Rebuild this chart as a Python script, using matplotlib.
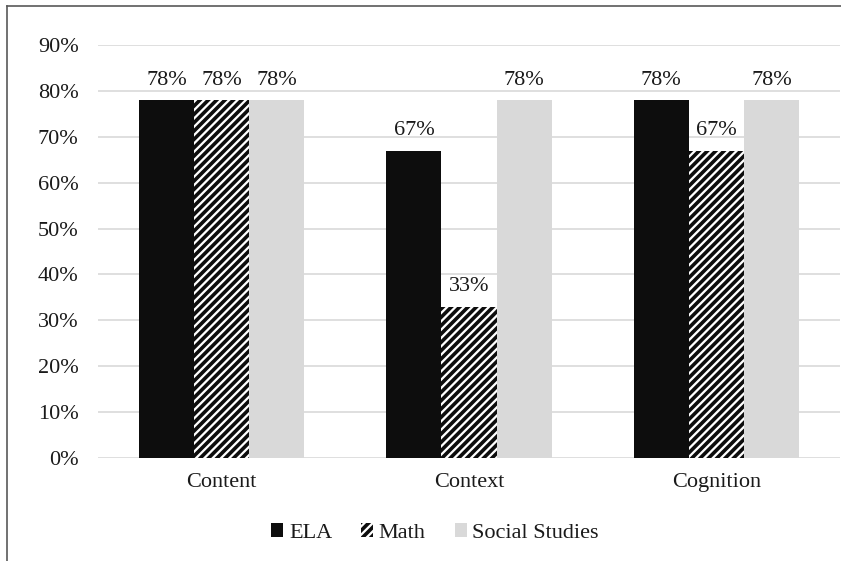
import matplotlib
matplotlib.use("Agg")
import matplotlib.pyplot as plt
import numpy as np
from matplotlib.lines import Line2D

plt.rcParams['font.family'] = ['Liberation Serif', 'DejaVu Serif']
plt.rcParams['hatch.linewidth'] = 2.6
plt.rcParams['hatch.color'] = '#0d0d0d'

categories = ['Content', 'Context', 'Cognition']
ela = [78, 67, 78]
math_vals = [78, 33, 67]
social = [78, 78, 78]
yticks = [0, 10, 20, 30, 40, 50, 60, 70, 80, 90]

fig = plt.figure(figsize=(8.41, 5.61), dpi=100)
ax = fig.add_axes([98 / 841, 1 - 458 / 561, 742 / 841, 413 / 561])

x = np.arange(len(categories))
w = 0.2227
series = [
    ('ELA', ela, dict(color='#0d0d0d')),
    ('Math', math_vals, dict(color='white', hatch='////', edgecolor='#0d0d0d', linewidth=0)),
    ('Social Studies', social, dict(color='#d9d9d9')),
]

fs = 16
for i, (name, vals, style) in enumerate(series):
    bars = ax.bar(x + (i - 1) * w, vals, w, label=name, zorder=3, **style)
    for b, v in zip(bars, vals):
        ax.annotate(f'{v}%', (b.get_x() + b.get_width() / 2, v),
                    xytext=(0, 11), textcoords='offset points',
                    ha='center', va='baseline', fontsize=fs, color='#1a1a1a')

ax.set_xlim(-0.5, 2.5)
ax.set_ylim(0, 90)
ax.set_yticks(yticks)
ax.set_yticklabels([f'{t}%' for t in yticks])
ax.set_xticks(x)
ax.set_xticklabels(categories)
ax.tick_params(axis='y', length=0, pad=14, labelsize=fs, labelcolor='#1a1a1a')
ax.tick_params(axis='x', length=0, pad=11, labelsize=fs, labelcolor='#1a1a1a')
ax.yaxis.grid(True, color='#d9d9d9', linewidth=1.2, zorder=0)
ax.set_axisbelow(True)
for s in ax.spines.values():
    s.set_visible(False)

leg = fig.legend(loc='center', bbox_to_anchor=(435 / 841, 1 - 533 / 561), ncol=3,
                 frameon=False, fontsize=fs, handlelength=0.55, handleheight=0.55,
                 handletextpad=0.25, columnspacing=1.3)
for t in leg.get_texts():
    t.set_color('#1a1a1a')

# outer frame: top and left edges only
fig.add_artist(Line2D([7 / 841, 7 / 841], [0, 1 - 6 / 561], transform=fig.transFigure,
                      color='#595959', linewidth=1.2))
fig.add_artist(Line2D([7 / 841, 1], [1 - 6 / 561, 1 - 6 / 561], transform=fig.transFigure,
                      color='#595959', linewidth=1.2))

fig.savefig('out.png', dpi=100)
